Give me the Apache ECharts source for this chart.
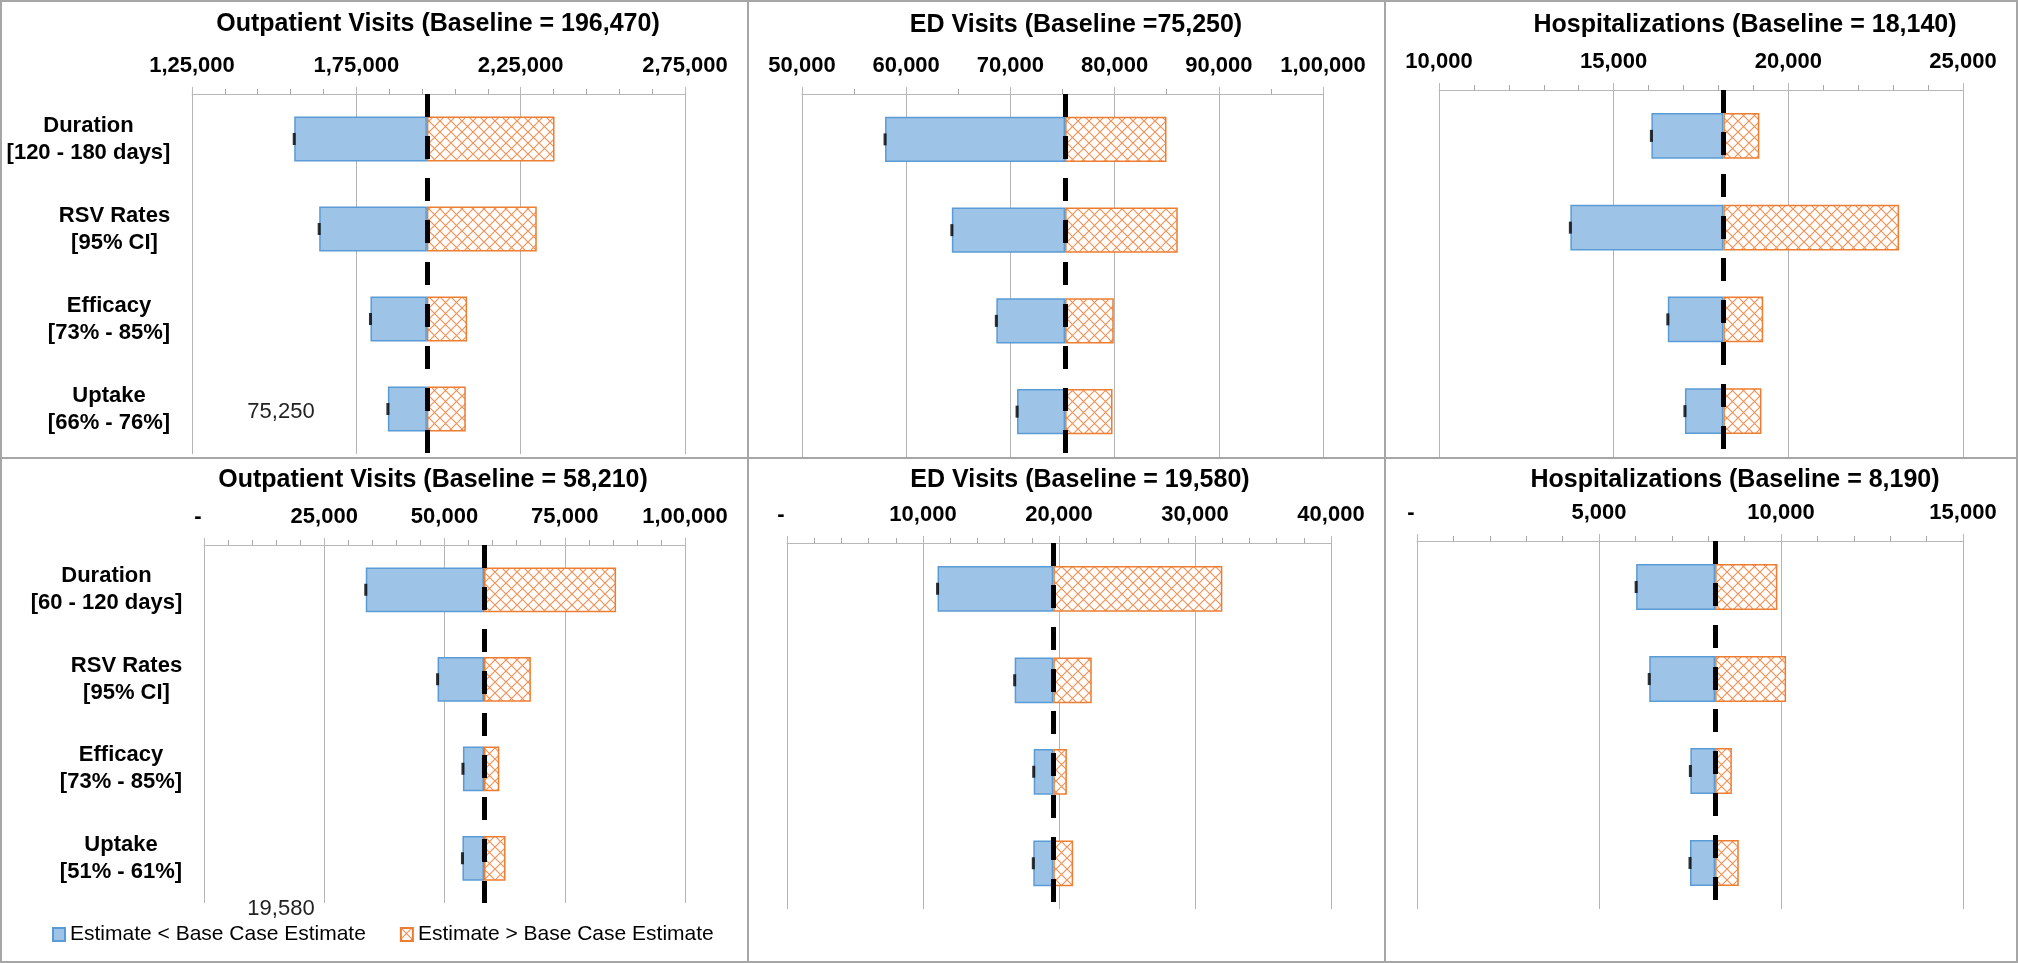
<!DOCTYPE html>
<html>
<head>
<meta charset="utf-8">
<script src="https://cdn.jsdelivr.net/npm/echarts@6/dist/echarts.min.js"></script>
<style>
html,body{margin:0;padding:0;background:#fff;}
#chart{width:2018px;height:963px;}
</style>
</head>
<body>
<div id="chart"></div>
<script>
// ---------------- DATA ----------------
const catsTop = ['Duration\n[120 - 180 days]', 'RSV Rates\n[95% CI]', 'Efficacy\n[73% - 85%]', 'Uptake\n[66% - 76%]'];
const catsBottom = ['Duration\n[60 - 120 days]', 'RSV Rates\n[95% CI]', 'Efficacy\n[73% - 85%]', 'Uptake\n[51% - 61%]'];

const seriesNames = ['Estimate < Base Case Estimate', 'Estimate > Base Case Estimate'];

const titles = [
  'Outpatient Visits (Baseline = 196,470)',
  'ED Visits (Baseline =75,250)',
  'Hospitalizations (Baseline = 18,140)',
  'Outpatient Visits (Baseline = 58,210)',
  'ED Visits (Baseline = 19,580)',
  'Hospitalizations (Baseline = 8,190)'
];

// Top row
const outTopBase = 196470;
const outTopLow  = [156100, 163700, 179300, 184600];
const outTopHigh = [235300, 229900, 208700, 208300];
const outTopTicks = [125000, 175000, 225000, 275000];

const edTopBase = 75250;
const edTopLow  = [57970, 64380, 68650, 70640];
const edTopHigh = [84980, 86060, 79920, 79800];
const edTopTicks = [50000, 60000, 70000, 80000, 90000, 100000];

const hospTopBase = 18140;
const hospTopLow  = [16080, 13760, 16550, 17040];
const hospTopHigh = [19170, 23170, 19280, 19230];
const hospTopTicks = [10000, 15000, 20000, 25000];

// Bottom row
const outBotBase = 58210;
const outBotLow  = [33630, 48560, 53830, 53730];
const outBotHigh = [85670, 67960, 61390, 62690];
const outBotTicks = [0, 25000, 50000, 75000, 100000];

const edBotBase = 19580;
const edBotLow  = [11070, 16740, 18140, 18110];
const edBotHigh = [32010, 22410, 20580, 21040];
const edBotTicks = [0, 10000, 20000, 30000, 40000];

const hospBotBase = 8190;
const hospBotLow  = [6020, 6380, 7510, 7500];
const hospBotHigh = [9900, 10140, 8650, 8840];
const hospBotTicks = [0, 5000, 10000, 15000];

// stray text boxes present in the original figure
const strayTexts = ['75,250', '19,580'];

// ---------------- HELPERS ----------------
const FONT = "'Liberation Sans', Arial, Helvetica, sans-serif";

function fmtIN(v) {
  if (v === 0) return '{z|-}';
  let s = Math.round(v).toString();
  let last3 = s.slice(-3);
  let rest = s.slice(0, -3);
  if (rest) last3 = ',' + last3;
  rest = rest.replace(/\B(?=(\d{2})+(?!\d))/g, ',');
  return rest + last3;
}

function textW(t, font) {
  const c = document.createElement('canvas').getContext('2d');
  c.font = font;
  return c.measureText(t).width;
}

function hatch() {
  const s = 11;
  const c = document.createElement('canvas');
  c.width = s; c.height = s;
  const g = c.getContext('2d');
  g.fillStyle = '#ffffff';
  g.fillRect(0, 0, s, s);
  g.strokeStyle = '#f19357';
  g.lineWidth = 1.2;
  g.beginPath();
  g.moveTo(0, 0); g.lineTo(s, s);
  g.moveTo(s, 0); g.lineTo(0, s);
  g.stroke();
  return c;
}
const hatchPattern = { image: hatch(), repeat: 'repeat' };

// ---------------- PANELS (layout) ----------------
const panels = [
  { cats: catsTop, base: outTopBase, low: outTopLow, high: outTopHigh, ticks: outTopTicks, minor: 5, showCats: true,
    grid: { left: 192, top: 94, width: 493, height: 360 }, title: [438, 25] },
  { cats: catsTop, base: edTopBase, low: edTopLow, high: edTopHigh, ticks: edTopTicks, minor: 2, showCats: false,
    grid: { left: 802, top: 94, width: 521, height: 363 }, title: [1076, 26] },
  { cats: catsTop, base: hospTopBase, low: hospTopLow, high: hospTopHigh, ticks: hospTopTicks, minor: 5, showCats: false,
    grid: { left: 1439, top: 90, width: 524, height: 367 }, title: [1745, 26] },
  { cats: catsBottom, base: outBotBase, low: outBotLow, high: outBotHigh, ticks: outBotTicks, minor: 5, showCats: true,
    grid: { left: 204, top: 545, width: 481, height: 358 }, title: [433, 481] },
  { cats: catsBottom, base: edBotBase, low: edBotLow, high: edBotHigh, ticks: edBotTicks, minor: 5, showCats: false,
    grid: { left: 787, top: 543, width: 544, height: 366 }, title: [1080, 481] },
  { cats: catsBottom, base: hospBotBase, low: hospBotLow, high: hospBotHigh, ticks: hospBotTicks, minor: 5, showCats: false,
    grid: { left: 1417, top: 541, width: 546, height: 368 }, title: [1735, 481] }
];

const catFont = "bold 22px 'Liberation Sans', Arial, sans-serif";

const grids = [], xAxes = [], yAxes = [], series = [], titleOpts = [];

panels.forEach((p, i) => {
  grids.push(Object.assign({ containLabel: false }, p.grid));

  titleOpts.push({
    text: titles[i],
    left: p.title[0],
    top: p.title[1] - 13,
    textAlign: 'center',
    padding: 0,
    textStyle: { fontFamily: FONT, fontWeight: 'bold', fontSize: 25, color: '#000' }
  });

  const t = p.ticks;
  xAxes.push({
    type: 'value',
    gridIndex: i,
    position: 'top',
    min: t[0],
    max: t[t.length - 1],
    interval: t[1] - t[0],
    axisLine: { show: true, lineStyle: { color: '#b8b8b8', width: 1 } },
    axisTick: { show: true, length: 7, lineStyle: { color: '#b8b8b8', width: 1 } },
    minorTick: { show: true, splitNumber: p.minor, length: 5, lineStyle: { color: '#a8a8a8', width: 1 } },
    splitLine: { show: true, lineStyle: { color: '#b4b4b4', width: 1 } },
    axisLabel: {
      show: true, margin: 17, showMinLabel: true, showMaxLabel: true, hideOverlap: false,
      fontFamily: FONT, fontWeight: 'bold', fontSize: 22, color: '#000',
      formatter: fmtIN,
      rich: { z: { fontFamily: FONT, fontWeight: 'bold', fontSize: 22, color: '#000', padding: [0, 12, 0, 0] } }
    }
  });

  // rich styles so each label block is right-aligned with its lines centred
  const rich = {};
  p.cats.forEach((c, j) => {
    const w = Math.max.apply(null, c.split('\n').map(l => textW(l, catFont)));
    rich['c' + j] = { width: Math.ceil(w) + 1, align: 'center', fontFamily: FONT, fontWeight: 'bold', fontSize: 22, lineHeight: 27, color: '#000' };
  });

  yAxes.push({
    type: 'category',
    gridIndex: i,
    inverse: true,
    data: p.cats,
    axisLine: { show: false },
    axisTick: { show: false },
    splitLine: { show: false },
    axisLabel: {
      show: p.showCats,
      margin: 21,
      align: 'right',
      interval: 0,
      formatter: (v, idx) => v.split('\n').map(l => '{c' + idx + '|' + l + '}').join('\n'),
      rich: rich
    }
  });

  const stack = 'st' + i;
  series.push({
    type: 'bar', name: '_base' + i, stack: stack, xAxisIndex: i, yAxisIndex: i,
    data: p.low, barWidth: '50%', silent: true,
    itemStyle: { color: 'rgba(0,0,0,0)' }, emphasis: { disabled: true }
  });
  series.push({
    type: 'bar', name: seriesNames[0], stack: stack, xAxisIndex: i, yAxisIndex: i,
    data: p.low.map(v => p.base - v), barWidth: '50%',
    itemStyle: { color: '#9dc3e6', borderColor: '#5b9bd5', borderWidth: 1.5 },
    emphasis: { disabled: true }
  });
  series.push({
    type: 'bar', name: seriesNames[1], stack: stack, xAxisIndex: i, yAxisIndex: i,
    data: p.high.map(v => v - p.base), barWidth: '50%',
    itemStyle: { color: hatchPattern, borderColor: '#ed7d31', borderWidth: 1.5 },
    emphasis: { disabled: true }
  });
  series.push({
    type: 'scatter', name: '_mark' + i, xAxisIndex: i, yAxisIndex: i, z: 5,
    data: p.low.map((v, j) => [v, j]),
    symbol: 'rect', symbolSize: [3, 12],
    itemStyle: { color: '#000' }, silent: true,
    markLine: {
      silent: true, symbol: ['none', 'none'], label: { show: false },
      lineStyle: { color: '#000', width: 5, type: [23, 19] },
      emphasis: { disabled: true },
      data: [{ xAxis: p.base }]
    }
  });
});

const chart = echarts.init(document.getElementById('chart'), null, { renderer: 'canvas' });
chart.setOption({
  animation: false,
  backgroundColor: '#fff',
  title: titleOpts,
  grid: grids,
  xAxis: xAxes,
  yAxis: yAxes,
  legend: {
    data: seriesNames,
    left: 52, top: 924,
    icon: 'rect', itemWidth: 12, itemHeight: 13, itemGap: 34,
    padding: 0,
    textStyle: { fontFamily: FONT, fontSize: 21, color: '#000' },
    selectedMode: false
  },
  series: series,
  graphic: [
    { type: 'rect', silent: true, shape: { x: 1, y: 1, width: 2016, height: 961 }, style: { fill: 'none', stroke: '#a6a6a6', lineWidth: 2 } },
    { type: 'line', silent: true, shape: { x1: 748, y1: 0, x2: 748, y2: 963 }, style: { stroke: '#a6a6a6', lineWidth: 2 } },
    { type: 'line', silent: true, shape: { x1: 1385, y1: 0, x2: 1385, y2: 963 }, style: { stroke: '#a6a6a6', lineWidth: 2 } },
    { type: 'line', silent: true, shape: { x1: 0, y1: 458, x2: 2018, y2: 458 }, style: { stroke: '#a6a6a6', lineWidth: 2 } },
    { type: 'text', silent: true, x: 281, y: 412, style: { text: strayTexts[0], fontFamily: FONT, fontSize: 22, fill: '#222', align: 'center', verticalAlign: 'middle' } },
    { type: 'text', silent: true, x: 281, y: 909, style: { text: strayTexts[1], fontFamily: FONT, fontSize: 22, fill: '#222', align: 'center', verticalAlign: 'middle' } }
  ]
});
</script>
</body>
</html>
